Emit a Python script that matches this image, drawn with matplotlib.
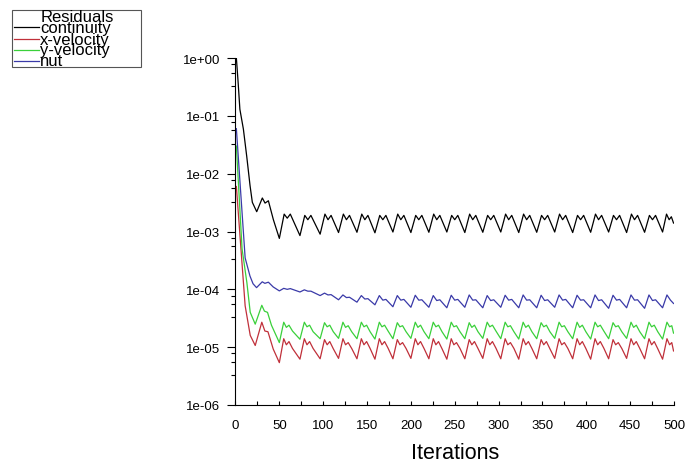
import matplotlib

matplotlib.use('Agg')
import matplotlib.pyplot as plt
from matplotlib.lines import Line2D
from matplotlib.patches import Rectangle
from matplotlib.ticker import FixedLocator, FuncFormatter, NullFormatter

plt.rcParams['font.family'] = ['Liberation Sans', 'DejaVu Sans']

# residual histories (iteration, residual) at the turning points
cont_it = [1, 3, 5, 9, 12.8, 16.6, 19.2, 24.2, 30.6, 33.7, 37.5, 43.2, 50,
           55.5, 59, 62.5, 73.5,
           79, 82.5, 86, 96.5,
           102, 105.5, 109, 117.5,
           123, 126.5, 130, 138.5,
           144, 147.5, 151, 159,
           164.5, 168, 171.5, 179.5,
           185, 188.5, 192, 200,
           205.5, 209, 212.5, 220.5,
           226, 229.5, 233, 241,
           246.5, 250, 253.5, 261.5,
           267, 270.5, 274, 282,
           287.5, 291, 294.5, 302.5,
           308, 311.5, 315, 323,
           328.5, 332, 335.5, 343.5,
           349, 352.5, 356, 364,
           369.5, 373, 376.5, 384.5,
           390, 393.5, 397, 405,
           410.5, 414, 417.5, 425.5,
           431, 434.5, 438, 446,
           451.5, 455, 458.5, 466.5,
           472, 475.5, 479, 487,
           491.5, 494.5, 497, 499.5]
cont_res = [1.0, 0.38, 0.13, 0.059, 0.020, 0.0062, 0.0032, 0.0022, 0.0038, 0.0031, 0.0034, 0.0016, 0.00076,
            0.0020, 0.0017, 0.0020, 0.00085,
            0.0019, 0.0016, 0.0019, 0.00090,
            0.0020, 0.0016, 0.0019, 0.00096,
            0.0020, 0.0016, 0.0019, 0.00097,
            0.0020, 0.0016, 0.0019, 0.00095,
            0.0019, 0.0016, 0.0019, 0.00098,
            0.0020, 0.0016, 0.0019, 0.00096,
            0.0019, 0.0016, 0.0019, 0.00097,
            0.0020, 0.0016, 0.0019, 0.00098,
            0.0019, 0.0016, 0.0019, 0.00096,
            0.0020, 0.0016, 0.0019, 0.00097,
            0.0019, 0.0016, 0.0019, 0.00098,
            0.0020, 0.0016, 0.0019, 0.00096,
            0.0020, 0.0016, 0.0019, 0.00097,
            0.0019, 0.0016, 0.0019, 0.00098,
            0.0020, 0.0016, 0.0019, 0.00096,
            0.0019, 0.0016, 0.0019, 0.00097,
            0.0020, 0.0016, 0.0019, 0.00098,
            0.0019, 0.0016, 0.0019, 0.00096,
            0.0020, 0.0016, 0.0019, 0.00097,
            0.0019, 0.0016, 0.0019, 0.00098,
            0.0020, 0.0016, 0.0018, 0.0014]

xvel_it = [1, 11, 16.8, 22.5, 30, 33.5, 37, 43, 50]
xvel_res = [0.006, 5.2e-5, 1.6e-5, 1.07e-5, 2.7e-5, 1.9e-5, 1.85e-5, 9.3e-6, 5.4e-6]
yvel_it = [1, 7.5, 13, 16.8, 22.5, 30, 33, 36.5, 41, 50]
yvel_res = [0.03, 5e-4, 1.3e-4, 4e-5, 2.5e-5, 5.3e-5, 4.2e-5, 4.0e-5, 2.4e-5, 1.2e-5]
nut_it = [1, 11, 16.5, 20, 24, 30.5, 33.5, 37.5, 43, 50]
nut_res = [0.06, 3.5e-4, 1.7e-4, 1.25e-4, 1.07e-4, 1.35e-4, 1.27e-4, 1.33e-4, 1.1e-4, 9.4e-5]

# periodic part: one row per cycle, starting at each trough
xvel_it += [55, 58, 61, 65, 73.5,
            78.5, 81.5, 84.5, 88.5, 96.5,
            101.5, 104.5, 107.5, 111.5, 117.5,
            122.5, 125.5, 128.5, 132.5, 138.5,
            143.5, 146.5, 149.5, 153.5, 159,
            164, 167, 170, 174, 179.5,
            184.5, 187.5, 190.5, 194.5, 200,
            205, 208, 211, 215, 220.5,
            225.5, 228.5, 231.5, 235.5, 241,
            246, 249, 252, 256, 261.5,
            266.5, 269.5, 272.5, 276.5, 282,
            287, 290, 293, 297, 302.5,
            307.5, 310.5, 313.5, 317.5, 323,
            328, 331, 334, 338, 343.5,
            348.5, 351.5, 354.5, 358.5, 364,
            369, 372, 375, 379, 384.5,
            389.5, 392.5, 395.5, 399.5, 405,
            410, 413, 416, 420, 425.5,
            430.5, 433.5, 436.5, 440.5, 446,
            451, 454, 457, 461, 466.5,
            471.5, 474.5, 477.5, 481.5, 487,
            492, 495, 497.5, 499.5]
xvel_res += [1.4e-5, 1.1e-5, 1.25e-5, 9.5e-6, 6.2e-6,
             1.4e-5, 1.1e-5, 1.25e-5, 9.5e-6, 6.3e-6,
             1.35e-5, 1.1e-5, 1.25e-5, 9.4e-6, 6.4e-6,
             1.4e-5, 1.1e-5, 1.2e-5, 9.5e-6, 6.3e-6,
             1.4e-5, 1.1e-5, 1.25e-5, 9.5e-6, 6.2e-6,
             1.4e-5, 1.1e-5, 1.25e-5, 9.6e-6, 6.3e-6,
             1.35e-5, 1.1e-5, 1.2e-5, 9.5e-6, 6.4e-6,
             1.4e-5, 1.1e-5, 1.25e-5, 9.5e-6, 6.3e-6,
             1.4e-5, 1.1e-5, 1.25e-5, 9.4e-6, 6.2e-6,
             1.4e-5, 1.1e-5, 1.2e-5, 9.5e-6, 6.3e-6,
             1.35e-5, 1.1e-5, 1.25e-5, 9.5e-6, 6.4e-6,
             1.4e-5, 1.1e-5, 1.25e-5, 9.6e-6, 6.3e-6,
             1.4e-5, 1.1e-5, 1.2e-5, 9.5e-6, 6.2e-6,
             1.4e-5, 1.1e-5, 1.25e-5, 9.5e-6, 6.3e-6,
             1.35e-5, 1.1e-5, 1.25e-5, 9.4e-6, 6.4e-6,
             1.4e-5, 1.1e-5, 1.2e-5, 9.5e-6, 6.3e-6,
             1.4e-5, 1.1e-5, 1.25e-5, 9.5e-6, 6.2e-6,
             1.4e-5, 1.1e-5, 1.25e-5, 9.6e-6, 6.3e-6,
             1.35e-5, 1.1e-5, 1.2e-5, 9.5e-6, 6.4e-6,
             1.4e-5, 1.1e-5, 1.25e-5, 9.5e-6, 6.3e-6,
             1.4e-5, 1.1e-5, 1.25e-5, 9.4e-6, 6.2e-6,
             1.4e-5, 1.1e-5, 1.2e-5, 8.6e-6]
yvel_it += xvel_it[len(yvel_it) - 1:]
yvel_res += [2.7e-5, 2.2e-5, 2.4e-5, 1.9e-5, 1.37e-5,
             2.7e-5, 2.25e-5, 2.4e-5, 1.85e-5, 1.4e-5,
             2.65e-5, 2.25e-5, 2.4e-5, 1.85e-5, 1.42e-5,
             2.7e-5, 2.2e-5, 2.35e-5, 1.85e-5, 1.4e-5,
             2.7e-5, 2.25e-5, 2.4e-5, 1.85e-5, 1.38e-5,
             2.7e-5, 2.25e-5, 2.4e-5, 1.9e-5, 1.4e-5,
             2.65e-5, 2.25e-5, 2.35e-5, 1.85e-5, 1.42e-5,
             2.7e-5, 2.2e-5, 2.4e-5, 1.85e-5, 1.4e-5,
             2.7e-5, 2.25e-5, 2.4e-5, 1.85e-5, 1.38e-5,
             2.7e-5, 2.25e-5, 2.35e-5, 1.85e-5, 1.4e-5,
             2.65e-5, 2.2e-5, 2.4e-5, 1.85e-5, 1.42e-5,
             2.7e-5, 2.25e-5, 2.4e-5, 1.9e-5, 1.4e-5,
             2.7e-5, 2.25e-5, 2.35e-5, 1.85e-5, 1.38e-5,
             2.7e-5, 2.2e-5, 2.4e-5, 1.85e-5, 1.4e-5,
             2.65e-5, 2.25e-5, 2.4e-5, 1.85e-5, 1.42e-5,
             2.7e-5, 2.25e-5, 2.35e-5, 1.85e-5, 1.4e-5,
             2.7e-5, 2.2e-5, 2.4e-5, 1.85e-5, 1.38e-5,
             2.7e-5, 2.25e-5, 2.4e-5, 1.9e-5, 1.4e-5,
             2.65e-5, 2.25e-5, 2.35e-5, 1.85e-5, 1.42e-5,
             2.7e-5, 2.2e-5, 2.4e-5, 1.85e-5, 1.4e-5,
             2.7e-5, 2.25e-5, 2.4e-5, 1.85e-5, 1.38e-5,
             2.7e-5, 2.25e-5, 2.35e-5, 1.75e-5]
nut_it += [55, 59, 62.5, 73.5,
           78.5, 82.5, 86, 96.5,
           101.5, 105.5, 109, 117.5,
           122.5, 126.5, 130, 138.5,
           143.5, 147.5, 151, 159,
           164, 168, 171.5, 179.5,
           184.5, 188.5, 192, 200,
           205, 209, 212.5, 220.5,
           225.5, 229.5, 233, 241,
           246, 250, 253.5, 261.5,
           266.5, 270.5, 274, 282,
           287, 291, 294.5, 302.5,
           307.5, 311.5, 315, 323,
           328, 332, 335.5, 343.5,
           348.5, 352.5, 356, 364,
           369, 373, 376.5, 384.5,
           389.5, 393.5, 397, 405,
           410, 414, 417.5, 425.5,
           430.5, 434.5, 438, 446,
           451, 455, 458.5, 466.5,
           471.5, 475.5, 479, 487,
           492, 496, 499.5]
nut_res += [1.04e-4, 1.0e-4, 1.03e-4, 9.0e-5,
            9.8e-5, 9.3e-5, 9.3e-5, 7.8e-5,
            8.6e-5, 8.0e-5, 8.1e-5, 6.6e-5,
            8.0e-5, 7.2e-5, 7.3e-5, 6.0e-5,
            7.8e-5, 6.8e-5, 6.9e-5, 5.4e-5,
            7.8e-5, 6.5e-5, 6.7e-5, 5.0e-5,
            7.8e-5, 6.5e-5, 6.7e-5, 4.9e-5,
            7.9e-5, 6.5e-5, 6.6e-5, 4.9e-5,
            7.8e-5, 6.4e-5, 6.6e-5, 4.8e-5,
            7.9e-5, 6.5e-5, 6.7e-5, 4.9e-5,
            8.0e-5, 6.5e-5, 6.6e-5, 4.8e-5,
            7.8e-5, 6.4e-5, 6.6e-5, 4.9e-5,
            7.9e-5, 6.5e-5, 6.7e-5, 4.8e-5,
            8.0e-5, 6.5e-5, 6.6e-5, 4.8e-5,
            7.9e-5, 6.4e-5, 6.6e-5, 4.9e-5,
            8.0e-5, 6.5e-5, 6.7e-5, 4.8e-5,
            7.9e-5, 6.5e-5, 6.6e-5, 4.8e-5,
            8.0e-5, 6.4e-5, 6.6e-5, 4.7e-5,
            7.9e-5, 6.5e-5, 6.7e-5, 4.8e-5,
            8.0e-5, 6.5e-5, 6.6e-5, 4.7e-5,
            8.0e-5, 6.4e-5, 6.6e-5, 4.8e-5,
            8.0e-5, 6.5e-5, 5.7e-5]

series = [('continuity', cont_it, cont_res, '#000000'),
          ('x-velocity', xvel_it, xvel_res, '#c0303a'),
          ('y-velocity', yvel_it, yvel_res, '#3ad03a'),
          ('nut', nut_it, nut_res, '#3a3aa8')]

fig = plt.figure(figsize=(6.99, 4.64), dpi=100)
ax = fig.add_axes([0.3369, 0.125, 0.6273, 0.7478])

for name, it, res, col in series:
    ax.plot(it, res, color=col, lw=0.9)

ax.set_yscale('log')
ax.set_ylim(1e-6, 1e0)
ax.set_xlim(0, 500)

for s in ['top', 'right']:
    ax.spines[s].set_visible(False)
for s in ['left', 'bottom']:
    ax.spines[s].set_linewidth(0.8)

ax.xaxis.set_major_locator(FixedLocator(range(0, 501, 50)))
ax.xaxis.set_minor_locator(FixedLocator(range(25, 500, 50)))
ax.tick_params(axis='x', which='both', direction='in', length=3, width=0.8,
               pad=10, labelsize=9.5)

decades = [1e-6, 1e-5, 1e-4, 1e-3, 1e-2, 1e-1, 1e0]
ax.yaxis.set_major_locator(FixedLocator(decades))
ax.yaxis.set_major_formatter(FuncFormatter(lambda v, p: f'{v:.0e}'))
ax.yaxis.set_minor_locator(FixedLocator([d * f for d in decades[:-1] for f in (3.3, 5.6, 7.8)]))
ax.yaxis.set_minor_formatter(NullFormatter())
ax.tick_params(axis='y', which='major', direction='out', length=6, width=0.8,
               pad=5, labelsize=9.5)
ax.tick_params(axis='y', which='minor', direction='out', length=3, width=0.8)

ax.set_xlabel('Iterations', fontsize=15.5, labelpad=8)

# legend box drawn by hand, Fluent style with overlapping rows
fig.patches.append(Rectangle((12 / 699, 1 - 68 / 464), 129 / 699, 57 / 464,
                             transform=fig.transFigure, fill=False,
                             edgecolor='#555555', lw=0.8))
fig.text(41 / 699, 1 - 22.3 / 464, 'Residuals', fontsize=12, va='baseline')
rows = [(28, 33.5), (39.5, 44.5), (51, 55.5), (62, 66.5)]
for (name, it, res, col), (ly, by) in zip(series, rows):
    fig.lines.append(Line2D([14 / 699, 39 / 699], [1 - ly / 464, 1 - ly / 464],
                            transform=fig.transFigure, color=col, lw=0.9))
    fig.text(40 / 699, 1 - by / 464, name, fontsize=12, va='baseline')

fig.savefig('out.png', dpi=100)
